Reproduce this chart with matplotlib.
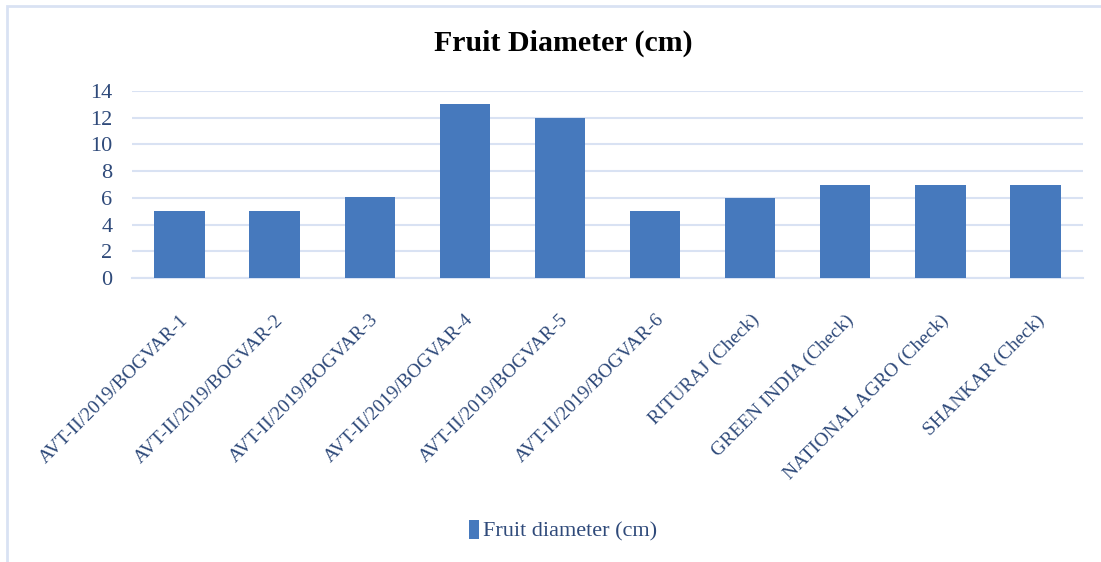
import matplotlib.pyplot as plt
from matplotlib.patches import Rectangle

# genotypes and measured fruit diameter (cm)
genotypes = ['AVT-II/2019/BOGVAR-1', 'AVT-II/2019/BOGVAR-2', 'AVT-II/2019/BOGVAR-3',
             'AVT-II/2019/BOGVAR-4', 'AVT-II/2019/BOGVAR-5', 'AVT-II/2019/BOGVAR-6',
             'RITURAJ (Check)', 'GREEN INDIA (Check)', 'NATIONAL AGRO (Check)',
             'SHANKAR (Check)']
fruit_diameter = [5.05, 5.05, 6.05, 13.0, 12.0, 5.0, 6.0, 7.0, 7.0, 6.95]
y_ticks = [0, 2, 4, 6, 8, 10, 12, 14]

text_color = '#2F4A7A'
bar_color = '#4679BD'
grid_color = '#D9E2F3'

plt.rcParams['font.family'] = ['Liberation Serif', 'DejaVu Serif']

fig = plt.figure(figsize=(11.01, 5.62), dpi=100)
ax = fig.add_axes([132 / 1101, 1 - 278 / 562, (1083 - 132) / 1101, (278 - 91) / 562])

x = range(len(genotypes))
bars = ax.bar(x, fruit_diameter, width=0.53, color=bar_color, zorder=3,
              label='Fruit diameter (cm)')

ax.set_ylim(0, 14)
ax.set_xlim(-0.5, len(genotypes) - 0.5)
ax.set_yticks(y_ticks)
ax.set_yticklabels([str(t) for t in y_ticks], fontsize=16, color=text_color)
ax.set_xticks(list(x))
ax.set_xticklabels(genotypes, rotation=45, ha='right', rotation_mode='anchor',
                   fontsize=14, color=text_color)
ax.tick_params(axis='both', length=0)
ax.tick_params(axis='x', pad=24)
ax.tick_params(axis='y', pad=14)

ax.grid(axis='y', color=grid_color, linewidth=1.5, zorder=0)
for side in ['top', 'right', 'left']:
    ax.spines[side].set_visible(False)
ax.spines['bottom'].set_color(grid_color)
ax.spines['bottom'].set_linewidth(1.5)

fig.text(563 / 1101, 1 - 43 / 562, 'Fruit Diameter (cm)', ha='center', va='center',
         fontsize=21.5, fontweight='bold', color='black')

fig.legend(handles=[bars], loc='center', bbox_to_anchor=(563 / 1101, 1 - 531 / 562),
           frameon=False, fontsize=16, labelcolor=text_color,
           handlelength=0.45, handleheight=0.9, handletextpad=0.2)

# light chart-area frame
fig.patches.append(Rectangle((7 / 1101, -0.05), 1.1, 1 - 6 / 562 + 0.05,
                             transform=fig.transFigure, fill=False,
                             edgecolor=grid_color, linewidth=2))

fig.savefig('out.png', dpi=100)
